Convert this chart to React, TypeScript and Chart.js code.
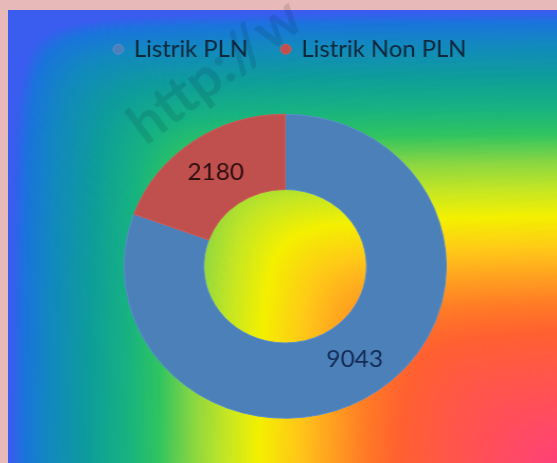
import React, { useEffect, useRef } from 'react';
import { Chart, registerables } from 'chart.js';

Chart.register(...registerables);

// ---- data ----
const categories = ['Listrik PLN', 'Listrik Non PLN'];
const values = [9043, 2180];
const sliceColors = ['#4c80b9', '#c0504d'];
const sliceBorders = ['#5a8ed0', '#cc5c58'];
const labelColors = ['#142a55', '#2e0f10'];
const watermarkText = 'http://w';

// background gradient stops, radiating from the bottom-right corner (0) to far edges (1)
const gradientStops: [number, string][] = [
  [0.0, '#f8368a'],
  [0.08, '#ff4470'],
  [0.16, '#ff5058'],
  [0.23, '#ff5846'],
  [0.3, '#ff6030'],
  [0.36, '#ff7a26'],
  [0.42, '#ffa020'],
  [0.48, '#ffc818'],
  [0.55, '#f4f000'],
  [0.61, '#c4e624'],
  [0.67, '#88d642'],
  [0.73, '#30c460'],
  [0.79, '#16b282'],
  [0.86, '#0e9c9c'],
  [0.93, '#1288c0'],
  [0.975, '#1a74dc'],
  [1.0, '#3a5cf0'],
];

const STRETCH = 1.06;
const W = 518;
const H = 453;
const ROUND = 0.06; // softness of the corner of the rectangular gradient contours

function buildBackground(w: number, h: number): HTMLCanvasElement {
  const lut = document.createElement('canvas');
  lut.width = 1024;
  lut.height = 1;
  const lx = lut.getContext('2d')!;
  const g = lx.createLinearGradient(0, 0, 1024, 0);
  gradientStops.forEach(([t, c]) => g.addColorStop(t, c));
  lx.fillStyle = g;
  lx.fillRect(0, 0, 1024, 1);
  const ld = lx.getImageData(0, 0, 1024, 1).data;

  const c = document.createElement('canvas');
  c.width = w;
  c.height = h;
  const cx = c.getContext('2d')!;
  const img = cx.createImageData(w, h);
  const d = img.data;
  const e2 = ROUND * ROUND;
  for (let y = 0; y < h; y++) {
    const v = (h - y - 0.5) / h;
    for (let x = 0; x < w; x++) {
      const u = (w - x - 0.5) / w;
      const half = (u - v) / 2;
      let t = (u + v) / 2 + Math.sqrt(half * half + e2);
      if (t > 1) t = 1;
      const k = Math.round(t * 1023) * 4;
      const o = (y * w + x) * 4;
      d[o] = ld[k];
      d[o + 1] = ld[k + 1];
      d[o + 2] = ld[k + 2];
      d[o + 3] = 255;
    }
  }
  cx.putImageData(img, 0, 0);
  return c;
}

export default function App() {
  const ref = useRef<HTMLCanvasElement>(null);

  useEffect(() => {
    if (!ref.current) return;
    const bg = buildBackground(W, H);

    const bgPlugin = {
      id: 'cornerBg',
      beforeDraw(chart: any) {
        chart.ctx.drawImage(bg, 0, 0, chart.width, chart.height);
      },
    };

    const legendShift = {
      id: 'legendShift',
      afterLayout(chart: any) {
        if (chart.legend) {
          chart.legend.left += 5;
          chart.legend.right += 5;
        }
      },
    };

    const labelPlugin = {
      id: 'sliceLabels',
      afterDatasetsDraw(chart: any) {
        const ctx = chart.ctx as CanvasRenderingContext2D;
        const meta = chart.getDatasetMeta(0);
        ctx.save();
        ctx.font = '23px Lato';
        ctx.textAlign = 'center';
        ctx.textBaseline = 'middle';
        meta.data.forEach((arc: any, i: number) => {
          const p = arc.tooltipPosition(false);
          ctx.fillStyle = labelColors[i];
          ctx.fillText(String(values[i]), p.x, p.y);
        });
        ctx.restore();
      },
    };

    const chart = new Chart(ref.current, {
      type: 'doughnut',
      data: {
        labels: categories,
        datasets: [
          {
            data: values,
            backgroundColor: sliceColors,
            borderColor: sliceBorders,
            borderWidth: 1,
            radius: 152,
            cutout: '50.5%',
          } as any,
        ],
      },
      options: {
        responsive: false,
        animation: false,
        layout: { padding: { top: -4, left: 5, right: 0, bottom: 1 } },
        plugins: {
          legend: {
            position: 'top',
            labels: {
              usePointStyle: true,
              pointStyle: 'circle',
              boxWidth: 7,
              boxHeight: 7,
              padding: 32,
              color: '#10263a',
              font: { family: 'Lato', size: 22.5 },
            },
          },
          tooltip: { enabled: false },
        },
      },
      plugins: [bgPlugin, legendShift, labelPlugin],
    });

    return () => chart.destroy();
  }, []);

  return (
    <div style={{ position: 'fixed', inset: 0, background: '#e7b9b8', overflow: 'hidden' }}>
      <div style={{ position: 'absolute', left: 8, top: 10, width: 549, height: 453, overflow: 'hidden' }}>
        <div style={{ width: W, height: H, transform: `scaleX(${STRETCH})`, transformOrigin: '0 0' }}>
          <canvas ref={ref} width={W} height={H} style={{ width: W, height: H, display: 'block' }} />
        </div>
      </div>
      <div
        style={{
          position: 'absolute',
          left: 150,
          top: 96,
          height: 56,
          lineHeight: '56px',
          fontFamily: 'Lato',
          fontWeight: 'bold',
          fontSize: 56,
          color: 'rgba(0, 20, 40, 0.12)',
          whiteSpace: 'nowrap',
          transform: 'rotate(-37deg)',
          transformOrigin: '0 100%',
          pointerEvents: 'none',
        }}
      >
        {watermarkText}
      </div>
    </div>
  );
}
